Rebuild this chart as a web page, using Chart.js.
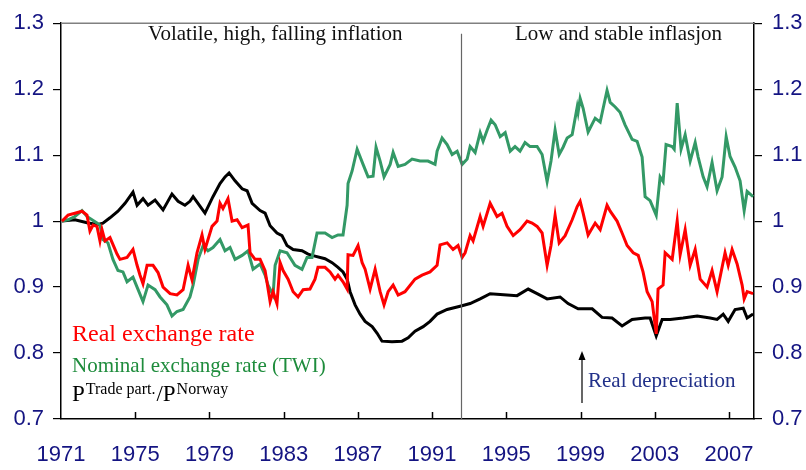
<!DOCTYPE html>
<html>
<head>
<meta charset="utf-8">
<script src="https://cdn.jsdelivr.net/npm/chart.js@4.4.1/dist/chart.umd.min.js"></script>
<style>
  html, body { margin: 0; padding: 0; background: #fff; }
  #wrap { width: 806px; height: 470px; }
</style>
</head>
<body>
<div id="wrap"><canvas id="rerChart" width="806" height="470"></canvas></div>
<script>
// x ticks (years) and y ticks
var xTicks = [1971, 1975, 1979, 1983, 1987, 1991, 1995, 1999, 2003, 2007];
var yTicks = [0.7, 0.8, 0.9, 1.0, 1.1, 1.2, 1.3];
var regimeBreak = 1992.56;

// Real exchange rate (red)
var redX = [1971.05,1971.38,1971.75,1972.13,1972.40,1972.56,1972.73,1972.94,1973.10,1973.21,1973.37,1973.64,1974.02,1974.18,1974.56,1974.88,1975.10,1975.26,1975.42,1975.64,1975.96,1976.23,1976.50,1976.88,1977.25,1977.58,1977.85,1978.06,1978.33,1978.60,1978.76,1979.14,1979.41,1979.57,1979.73,1980.00,1980.22,1980.49,1980.76,1981.08,1981.19,1981.46,1981.73,1982.00,1982.27,1982.43,1982.64,1982.81,1982.97,1983.24,1983.51,1983.78,1984.05,1984.42,1984.69,1984.85,1985.23,1985.50,1985.77,1985.93,1986.20,1986.42,1986.47,1986.74,1987.01,1987.23,1987.39,1987.66,1987.93,1988.20,1988.41,1988.63,1988.90,1989.17,1989.54,1990.08,1990.46,1990.89,1991.27,1991.43,1991.81,1992.13,1992.40,1992.62,1992.78,1993.05,1993.21,1993.59,1993.75,1994.13,1994.50,1994.77,1995.04,1995.37,1995.74,1996.12,1996.39,1996.66,1996.93,1997.20,1997.41,1997.63,1997.85,1998.17,1998.55,1998.82,1998.98,1999.14,1999.41,1999.79,2000.06,2000.43,2000.60,2000.97,2001.24,2001.51,2001.84,2002.11,2002.37,2002.59,2002.86,2003.08,2003.18,2003.45,2003.56,2003.94,2004.21,2004.37,2004.64,2004.91,2005.18,2005.45,2005.82,2006.09,2006.36,2006.79,2006.96,2007.17,2007.44,2007.71,2007.82,2007.98,2008.30];
var redY = [1.000,1.009,1.012,1.015,1.009,0.985,0.994,0.992,0.970,0.987,0.970,0.975,0.950,0.942,0.945,0.957,0.933,0.918,0.905,0.933,0.933,0.922,0.900,0.890,0.888,0.896,0.933,0.911,0.952,0.979,0.957,0.992,1.000,1.027,1.019,1.034,1.000,1.002,0.990,0.994,0.952,0.942,0.942,0.925,0.878,0.893,0.875,0.937,0.925,0.912,0.893,0.885,0.896,0.897,0.912,0.930,0.930,0.923,0.912,0.918,0.908,0.897,0.949,0.948,0.963,0.937,0.927,0.897,0.927,0.893,0.873,0.893,0.903,0.888,0.893,0.912,0.918,0.923,0.933,0.964,0.967,0.957,0.963,0.945,0.952,0.978,0.970,1.007,0.992,1.027,1.007,1.012,0.992,0.978,0.987,1.000,0.997,0.992,0.982,0.933,0.963,1.009,0.967,0.978,1.002,1.022,1.030,1.012,0.979,0.997,0.987,1.024,1.015,1.000,0.982,0.963,0.952,0.948,0.923,0.893,0.878,0.829,0.897,0.903,0.952,0.942,1.000,0.949,0.987,0.933,0.957,0.912,0.900,0.925,0.893,0.952,0.933,0.957,0.935,0.903,0.882,0.893,0.890];

// Nominal exchange rate, TWI (green)
var greenX = [1971.05,1971.38,1971.75,1972.13,1972.40,1972.67,1972.94,1973.10,1973.26,1973.53,1973.80,1974.07,1974.34,1974.56,1974.88,1975.10,1975.42,1975.69,1976.07,1976.34,1976.71,1976.98,1977.25,1977.58,1977.95,1978.12,1978.39,1978.66,1978.92,1979.19,1979.57,1979.84,1980.11,1980.38,1980.76,1981.08,1981.35,1981.73,1982.00,1982.16,1982.43,1982.54,1982.81,1983.18,1983.61,1983.99,1984.26,1984.53,1984.80,1985.23,1985.61,1985.93,1986.20,1986.42,1986.47,1986.69,1986.96,1987.28,1987.55,1987.82,1987.98,1988.20,1988.41,1988.74,1988.90,1989.17,1989.54,1989.92,1990.35,1990.78,1991.16,1991.27,1991.54,1991.81,1992.08,1992.35,1992.62,1992.89,1993.05,1993.32,1993.59,1993.75,1993.97,1994.18,1994.40,1994.67,1994.94,1995.21,1995.47,1995.74,1996.01,1996.28,1996.66,1996.93,1997.20,1997.41,1997.63,1997.85,1998.06,1998.28,1998.55,1998.82,1998.87,1998.98,1999.14,1999.41,1999.79,2000.06,2000.22,2000.43,2000.60,2000.87,2001.13,2001.40,2001.78,2002.05,2002.32,2002.48,2002.75,2003.08,2003.29,2003.45,2003.61,2003.94,2004.05,2004.21,2004.42,2004.64,2004.91,2005.18,2005.34,2005.61,2005.82,2006.09,2006.36,2006.63,2006.85,2007.06,2007.33,2007.60,2007.82,2007.98,2008.30];
var greenY = [1.000,1.002,1.007,1.016,1.007,1.002,0.997,0.994,0.972,0.967,0.942,0.925,0.923,0.908,0.915,0.900,0.878,0.903,0.896,0.885,0.873,0.856,0.863,0.866,0.885,0.903,0.942,0.963,0.955,0.960,0.972,0.955,0.960,0.942,0.948,0.955,0.927,0.935,0.918,0.903,0.888,0.933,0.955,0.952,0.933,0.927,0.945,0.945,0.982,0.982,0.975,0.979,0.979,1.024,1.057,1.076,1.109,1.086,1.067,1.068,1.112,1.091,1.067,1.086,1.104,1.083,1.086,1.094,1.091,1.091,1.086,1.106,1.126,1.116,1.101,1.106,1.086,1.094,1.113,1.104,1.134,1.121,1.138,1.153,1.146,1.128,1.134,1.106,1.113,1.106,1.119,1.113,1.113,1.101,1.060,1.091,1.138,1.101,1.112,1.126,1.131,1.173,1.165,1.186,1.171,1.135,1.156,1.150,1.171,1.198,1.180,1.173,1.165,1.146,1.124,1.121,1.097,1.037,1.031,1.009,1.067,1.060,1.116,1.113,1.109,1.179,1.109,1.131,1.091,1.119,1.097,1.067,1.052,1.089,1.046,1.067,1.128,1.098,1.082,1.061,1.016,1.045,1.037];

// Relative prices, trade partners / Norway (black)
var blackX = [1971.05,1971.75,1972.46,1973.00,1973.26,1973.64,1974.07,1974.45,1974.88,1975.10,1975.42,1975.69,1976.07,1976.50,1976.98,1977.31,1977.68,1977.95,1978.12,1978.76,1979.19,1979.57,1979.84,1980.06,1980.38,1980.76,1981.03,1981.30,1981.73,1982.00,1982.27,1982.64,1982.91,1983.18,1983.51,1983.99,1984.32,1984.53,1985.23,1985.61,1985.93,1986.20,1986.42,1986.58,1986.85,1987.12,1987.39,1987.77,1988.04,1988.30,1988.84,1989.38,1989.71,1990.08,1990.52,1990.89,1991.27,1991.81,1992.51,1993.05,1993.59,1994.13,1995.04,1995.58,1996.18,1996.66,1997.20,1997.90,1998.33,1998.87,1999.63,2000.16,2000.70,2001.24,2001.78,2002.48,2002.75,2003.08,2003.40,2003.83,2004.53,2005.29,2005.99,2006.36,2006.69,2006.96,2007.33,2007.77,2007.98,2008.30];
var blackY = [1.000,1.002,0.997,0.995,0.997,1.005,1.015,1.027,1.044,1.024,1.034,1.024,1.032,1.017,1.041,1.030,1.024,1.030,1.037,1.012,1.037,1.057,1.067,1.073,1.061,1.049,1.046,1.027,1.016,1.012,0.993,0.982,0.978,0.963,0.957,0.955,0.950,0.948,0.943,0.937,0.930,0.923,0.912,0.893,0.873,0.859,0.848,0.840,0.830,0.818,0.817,0.818,0.823,0.833,0.840,0.848,0.859,0.866,0.871,0.875,0.882,0.890,0.888,0.887,0.897,0.890,0.882,0.885,0.875,0.867,0.867,0.854,0.853,0.841,0.851,0.853,0.853,0.826,0.851,0.851,0.853,0.856,0.853,0.851,0.859,0.848,0.866,0.868,0.853,0.859];

var NAVY = '#141482';
var RED = '#ff0000';
var GREEN = '#339966';
var GREEN_TEXT = '#1e8c3c';
var SERIF = '"Liberation Serif", "Times New Roman", serif';

function toPoints(xs, ys) {
    return xs.map(function(x, i) { return { x: x, y: ys[i] }; });
}

// extra drawing: top frame, inward x ticks, regime line and the texts
var overlay = {
    id: 'overlay',
    afterDraw: function(chart) {
        var ctx = chart.ctx;
        var a = chart.chartArea;
        var xs = chart.scales.x;
        var ys = chart.scales.y;
        ctx.save();

        ctx.strokeStyle = '#808080';
        ctx.lineWidth = 1.5;
        ctx.beginPath();
        ctx.moveTo(a.left, a.top);
        ctx.lineTo(a.right, a.top);
        ctx.stroke();

        ctx.strokeStyle = '#000';
        ctx.beginPath();
        xTicks.slice(1).forEach(function(v) {
            var px = Math.round(xs.getPixelForValue(v)) + 0.5;
            ctx.moveTo(px, a.bottom);
            ctx.lineTo(px, a.bottom - 7);
        });
        ctx.stroke();

        // regime break
        var rx = Math.round(xs.getPixelForValue(regimeBreak)) + 0.5;
        ctx.strokeStyle = '#666';
        ctx.lineWidth = 1.2;
        ctx.beginPath();
        ctx.moveTo(rx, ys.getPixelForValue(1.284));
        ctx.lineTo(rx, a.bottom);
        ctx.stroke();

        ctx.textBaseline = 'alphabetic';
        ctx.textAlign = 'left';
        ctx.fillStyle = '#111';
        ctx.font = '21px ' + SERIF;
        ctx.fillText('Volatile, high, falling inflation', 148, 40);
        ctx.fillText('Low and stable inflasjon', 515, 40);

        // legend texts
        ctx.fillStyle = RED;
        ctx.font = '24px ' + SERIF;
        ctx.fillText('Real exchange rate', 72, 341);
        ctx.fillStyle = GREEN_TEXT;
        ctx.font = '21px ' + SERIF;
        ctx.fillText('Nominal exchange rate (TWI)', 72, 372);

        ctx.fillStyle = '#000';
        var px = 72;
        var parts = [['P', 23, 401, 1], ['Trade part.', 16, 394, 1], ['/', 23, 401, 0], ['P', 23, 401, 1], ['Norway', 16, 394, 0]];
        parts.forEach(function(p) {
            ctx.font = p[1] + 'px ' + SERIF;
            ctx.fillText(p[0], px, p[2]);
            px += ctx.measureText(p[0]).width + p[3];
        });

        // real depreciation arrow
        ctx.strokeStyle = '#000';
        ctx.lineWidth = 1.2;
        ctx.beginPath();
        ctx.moveTo(582, 403);
        ctx.lineTo(582, 356);
        ctx.stroke();
        ctx.fillStyle = '#000';
        ctx.beginPath();
        ctx.moveTo(582, 351);
        ctx.lineTo(578.5, 360);
        ctx.lineTo(585.5, 360);
        ctx.closePath();
        ctx.fill();

        ctx.fillStyle = '#22318a';
        ctx.font = '21px ' + SERIF;
        ctx.fillText('Real depreciation', 588, 387);

        ctx.restore();
    }
};

var tickFont = { family: '"Liberation Sans", Arial, sans-serif', size: 22 };

var ctx = document.getElementById('rerChart').getContext('2d');
var chart = new Chart(ctx, {
    type: 'line',
    data: {
        datasets: [{
            label: 'Real exchange rate',
            data: toPoints(redX, redY),
            borderColor: RED,
            borderWidth: 3,
            pointRadius: 0,
            tension: 0
        }, {
            label: 'Nominal exchange rate (TWI)',
            data: toPoints(greenX, greenY),
            borderColor: GREEN,
            borderWidth: 3,
            pointRadius: 0,
            tension: 0
        }, {
            label: 'P trade part. / P Norway',
            data: toPoints(blackX, blackY),
            borderColor: '#000',
            borderWidth: 3,
            pointRadius: 0,
            tension: 0
        }]
    },
    options: {
        responsive: false,
        animation: false,
        layout: { padding: { top: 16, left: 0, right: 0, bottom: 0 } },
        plugins: {
            legend: { display: false },
            tooltip: { enabled: false }
        },
        scales: {
            x: {
                type: 'linear',
                min: 1971,
                max: 2008.35,
                afterBuildTicks: function(scale) {
                    scale.ticks = xTicks.map(function(v) { return { value: v }; });
                },
                afterFit: function(scale) { scale.height = 51; },
                grid: { display: false, drawTicks: false },
                border: { display: true, color: '#000', width: 1.5 },
                ticks: {
                    color: NAVY,
                    font: tickFont,
                    padding: 23,
                    maxRotation: 0,
                    autoSkip: false,
                    callback: function(v) { return String(v); }
                }
            },
            y: {
                position: 'left',
                min: 0.7,
                max: 1.3,
                afterBuildTicks: function(scale) {
                    scale.ticks = yTicks.map(function(v) { return { value: v }; });
                },
                afterFit: function(scale) { scale.width = 61; },
                grid: { drawOnChartArea: false, color: '#000', lineWidth: 1.2, tickLength: 8 },
                border: { display: true, color: '#000', width: 1.5 },
                ticks: {
                    color: NAVY,
                    font: tickFont,
                    padding: 9,
                    callback: function(v) { return String(Number(v.toFixed(1))); }
                }
            },
            y2: {
                position: 'right',
                min: 0.7,
                max: 1.3,
                afterBuildTicks: function(scale) {
                    scale.ticks = yTicks.map(function(v) { return { value: v }; });
                },
                afterFit: function(scale) { scale.width = 52; },
                grid: { drawOnChartArea: false, color: '#000', lineWidth: 1.2, tickLength: 8 },
                border: { display: true, color: '#000', width: 1.5 },
                ticks: {
                    color: NAVY,
                    font: tickFont,
                    padding: 10,
                    callback: function(v) { return String(Number(v.toFixed(1))); }
                }
            }
        }
    },
    plugins: [overlay]
});
</script>
</body>
</html>
